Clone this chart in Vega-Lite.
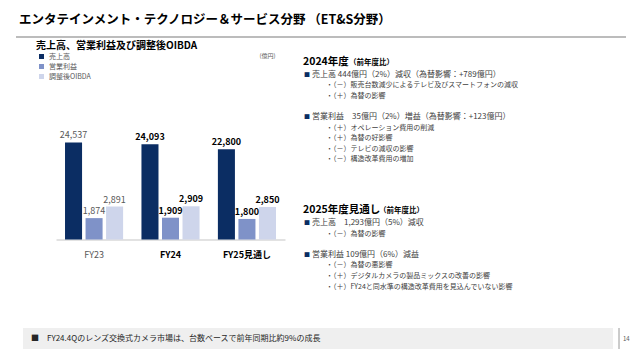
{
  "$schema": "https://vega.github.io/schema/vega-lite/v6.json",
  "background": "white",
  "padding": {"left": 15, "top": 0, "right": 0, "bottom": 0},
  "config": {"view": {"stroke": null}, "font": "Noto Sans CJK JP"},
  "bounds": "full",
  "spacing": 3,
  "resolve": {"scale": {"color": "independent"}, "legend": {"color": "independent"}},
  "vconcat": [
    {
      "width": 610,
      "height": 37,
      "data": {"values": [{"t": "エンタテインメント・テクノロジー＆サービス分野 （ET&S分野）"}]},
      "layer": [
        {
          "mark": {"type": "text", "align": "left", "baseline": "middle", "dx": 3, "dy": 1.5, "fontSize": 12.5, "fontWeight": "bold", "color": "#000000"},
          "encoding": {
            "x": {"datum": 0, "scale": {"domain": [0, 1]}, "axis": null},
            "text": {"field": "t"}
          }
        },
        {
          "mark": {"type": "rule", "color": "#a6a6a6", "strokeWidth": 1.5},
          "encoding": {"y": {"datum": 0, "scale": {"domain": [0, 1]}, "axis": null}}
        }
      ]
    },
    {
      "bounds": "full",
      "spacing": 37,
      "resolve": {"scale": {"color": "independent"}, "legend": {"color": "independent"}},
      "vconcat": [
        {
          "bounds": "flush",
          "spacing": 18,
          "resolve": {"scale": {"color": "independent"}, "legend": {"color": "independent"}},
          "hconcat": [
            {"width": 22, "height": 1, "data": {"values": []}, "mark": {"type": "point", "opacity": 0}, "encoding": {}},
            {
              "width": 229,
              "height": 175.5,
              "title": {"text": "売上高、営業利益及び調整後OIBDA", "anchor": "start", "frame": "group", "dx": -20, "offset": 2, "fontSize": 10, "fontWeight": "bold", "color": "#000000"},
              "data": {"values": [
                {"fy": "FY23", "series": "売上高", "value": 24537},
                {"fy": "FY23", "series": "営業利益", "value": 1874},
                {"fy": "FY23", "series": "調整後OIBDA", "value": 2891},
                {"fy": "FY24", "series": "売上高", "value": 24093},
                {"fy": "FY24", "series": "営業利益", "value": 1909},
                {"fy": "FY24", "series": "調整後OIBDA", "value": 2909},
                {"fy": "FY25見通し", "series": "売上高", "value": 22800},
                {"fy": "FY25見通し", "series": "営業利益", "value": 1800},
                {"fy": "FY25見通し", "series": "調整後OIBDA", "value": 2850}
              ]},
              "encoding": {
                "x": {
                  "field": "fy", "type": "nominal", "sort": ["FY23", "FY24", "FY25見通し"],
                  "scale": {"paddingInner": 0.24, "paddingOuter": 0.118},
                  "axis": {
                    "title": null, "ticks": false, "domainColor": "#d9d9d9", "domainWidth": 1.5,
                    "labelAngle": 0, "labelFontSize": 9, "labelPadding": 11,
                    "labelColor": {"condition": {"test": "datum.value === 'FY23'", "value": "#595959"}, "value": "#000000"},
                    "labelFontWeight": {"condition": {"test": "datum.value === 'FY23'", "value": "normal"}, "value": "bold"}
                  }
                },
                "xOffset": {"field": "series", "type": "nominal", "scale": {"domain": ["売上高", "営業利益", "調整後OIBDA"], "paddingInner": 0.17, "paddingOuter": 0}}
              },
              "layer": [
                {
                  "transform": [{"filter": "datum.series === '売上高'"}],
                  "mark": {"type": "bar"},
                  "encoding": {
                    "y": {"field": "value", "type": "quantitative", "scale": {"domain": [0, 44394], "nice": false}, "axis": null},
                    "color": {
                      "field": "series", "type": "nominal",
                      "scale": {"domain": ["売上高", "営業利益", "調整後OIBDA"], "range": ["#0b2d63", "#7f92c8", "#ced5eb"]},
                      "legend": {"orient": "none", "legendX": -18, "legendY": -11, "title": null, "symbolType": "square", "symbolSize": 25, "symbolStrokeWidth": 0, "labelFontSize": 7, "labelColor": "#595959", "rowPadding": 2, "labelOffset": 4, "padding": 0, "direction": "vertical"}
                    }
                  }
                },
                {
                  "transform": [{"filter": "datum.series !== '売上高'"}],
                  "mark": {"type": "bar"},
                  "encoding": {
                    "y": {"field": "value", "type": "quantitative", "scale": {"domain": [0, 15375], "nice": false}, "axis": null},
                    "color": {
                      "field": "series", "type": "nominal",
                      "scale": {"domain": ["売上高", "営業利益", "調整後OIBDA"], "range": ["#0b2d63", "#7f92c8", "#ced5eb"]},
                      "legend": {"orient": "none", "legendX": -18, "legendY": -11, "title": null, "symbolType": "square", "symbolSize": 25, "symbolStrokeWidth": 0, "labelFontSize": 7, "labelColor": "#595959", "rowPadding": 2, "labelOffset": 4, "padding": 0, "direction": "vertical"}
                    }
                  }
                },
                {
                  "transform": [{"filter": "datum.series === '売上高' && datum.fy === 'FY23'"}],
                  "mark": {"type": "text", "baseline": "bottom", "dy": -2, "fontSize": 9, "color": "#595959"},
                  "encoding": {
                    "y": {"field": "value", "type": "quantitative", "scale": {"domain": [0, 44394], "nice": false}, "axis": null},
                    "text": {"field": "value", "type": "quantitative", "format": ","}
                  }
                },
                {
                  "transform": [{"filter": "datum.series === '売上高' && datum.fy !== 'FY23'"}],
                  "mark": {"type": "text", "baseline": "bottom", "dy": -2, "fontSize": 9, "fontWeight": "bold", "color": "#000000"},
                  "encoding": {
                    "y": {"field": "value", "type": "quantitative", "scale": {"domain": [0, 44394], "nice": false}, "axis": null},
                    "text": {"field": "value", "type": "quantitative", "format": ","}
                  }
                },
                {
                  "transform": [{"filter": "datum.series !== '売上高' && datum.fy === 'FY23'"}],
                  "mark": {"type": "text", "baseline": "bottom", "dy": -2, "fontSize": 9, "color": "#595959"},
                  "encoding": {
                    "y": {"field": "value", "type": "quantitative", "scale": {"domain": [0, 15375], "nice": false}, "axis": null},
                    "text": {"field": "value", "type": "quantitative", "format": ","}
                  }
                },
                {
                  "transform": [{"filter": "datum.series !== '売上高' && datum.fy !== 'FY23'"}],
                  "mark": {"type": "text", "baseline": "bottom", "dy": -2, "fontSize": 9, "fontWeight": "bold", "color": "#000000"},
                  "encoding": {
                    "y": {"field": "value", "type": "quantitative", "scale": {"domain": [0, 15375], "nice": false}, "axis": null},
                    "text": {"field": "value", "type": "quantitative", "format": ","}
                  }
                },
                {
                  "data": {"values": [{"u": "(億円)"}]},
                  "mark": {"type": "text", "baseline": "middle", "dy": -8, "fontSize": 6, "color": "#595959"},
                  "encoding": {
                    "x": {"datum": "FY25見通し"},
                    "xOffset": {"datum": "調整後OIBDA"},
                    "y": {"datum": 44394, "scale": {"domain": [0, 44394], "nice": false}, "axis": null},
                    "text": {"field": "u"}
                  }
                }
              ],
              "resolve": {"scale": {"y": "independent"}}
            },
            {
              "width": 330,
              "height": 222.6,
              "data": {"values": [
                {"line": 0, "kind": "h", "text": "2024年度", "note": "（前年度比）"},
                {"line": 1, "kind": "b", "text": "売上高 444億円（2%）減収（為替影響：+789億円）"},
                {"line": 2, "kind": "s", "text": "・（－）販売台数減少によるテレビ及びスマートフォンの減収"},
                {"line": 3, "kind": "s", "text": "・（＋）為替の影響"},
                {"line": 5, "kind": "b", "text": "営業利益　35億円（2%）増益（為替影響：+123億円）"},
                {"line": 6, "kind": "s", "text": "・（＋）オペレーション費用の削減"},
                {"line": 7, "kind": "s", "text": "・（＋）為替の好影響"},
                {"line": 8, "kind": "s", "text": "・（－）テレビの減収の影響"},
                {"line": 9, "kind": "s", "text": "・（－）構造改革費用の増加"},
                {"line": 14, "kind": "h", "text": "2025年度見通し", "note": "（前年度比）"},
                {"line": 15, "kind": "b", "text": "売上高　1,293億円（5%）減収"},
                {"line": 16, "kind": "s", "text": "・（－）為替の影響"},
                {"line": 18, "kind": "b", "text": "営業利益 109億円（6%）減益"},
                {"line": 19, "kind": "s", "text": "・（－）為替の悪影響"},
                {"line": 20, "kind": "s", "text": "・（＋）デジタルカメラの製品ミックスの改善の影響"},
                {"line": 21, "kind": "s", "text": "・（＋）FY24と同水準の構造改革費用を見込んでいない影響"}
              ]},
              "encoding": {
                "x": {"datum": 0, "scale": {"domain": [0, 1]}, "axis": null},
                "y": {"field": "line", "type": "quantitative", "scale": {"domain": [0, 21], "reverse": true, "nice": false}, "axis": null}
              },
              "layer": [
                {
                  "transform": [{"filter": "datum.kind === 'h'"}],
                  "mark": {"type": "text", "align": "left", "baseline": "alphabetic", "dy": 0.5, "fontSize": 10.5, "fontWeight": "bold", "color": "#000000"},
                  "encoding": {"text": {"field": "text"}}
                },
                {
                  "transform": [{"filter": "datum.line === 0"}],
                  "mark": {"type": "text", "align": "left", "baseline": "alphabetic", "dy": 0.5, "dx": 46, "fontSize": 7.5, "fontWeight": "bold", "color": "#000000"},
                  "encoding": {"text": {"field": "note"}}
                },
                {
                  "transform": [{"filter": "datum.line === 14"}],
                  "mark": {"type": "text", "align": "left", "baseline": "alphabetic", "dy": 0.5, "dx": 76, "fontSize": 7.5, "fontWeight": "bold", "color": "#000000"},
                  "encoding": {"text": {"field": "note"}}
                },
                {
                  "transform": [{"filter": "datum.kind === 'b'"}],
                  "mark": {"type": "text", "align": "left", "baseline": "middle", "dx": 1, "fontSize": 6, "color": "#0b2d63"},
                  "encoding": {"text": {"value": "■"}}
                },
                {
                  "transform": [{"filter": "datum.kind === 'b'"}],
                  "mark": {"type": "text", "align": "left", "baseline": "middle", "dx": 9, "fontSize": 8, "color": "#404040"},
                  "encoding": {"text": {"field": "text"}}
                },
                {
                  "transform": [{"filter": "datum.kind === 's'"}],
                  "mark": {"type": "text", "align": "left", "baseline": "middle", "dx": 23, "fontSize": 7, "color": "#404040"},
                  "encoding": {"text": {"field": "text"}}
                }
              ]
            }
          ]
        },
        {
          "bounds": "flush",
          "spacing": 6,
          "hconcat": [
            {"width": 1, "height": 1, "data": {"values": []}, "mark": {"type": "point", "opacity": 0}, "encoding": {}},
            {
              "width": 590,
              "height": 21,
              "view": {"fill": "#efefef", "stroke": null},
              "data": {"values": [{"t": "■　FY24.4Qのレンズ交換式カメラ市場は、台数ベースで前年同期比約9%の成長"}]},
              "mark": {"type": "text", "align": "left", "baseline": "middle", "dx": 8, "fontSize": 8, "color": "#262626"},
              "encoding": {
                "x": {"datum": 0, "scale": {"domain": [0, 1]}, "axis": null},
                "text": {"field": "t"}
              }
            },
            {
              "width": 14,
              "height": 21,
              "data": {"values": [{"p": "14"}]},
              "layer": [
                {
                  "mark": {"type": "rule", "color": "#7f7f7f", "strokeWidth": 0.8},
                  "encoding": {"x": {"datum": 0, "scale": {"domain": [0, 1]}, "axis": null}}
                },
                {
                  "mark": {"type": "text", "align": "left", "baseline": "middle", "dx": 4, "fontSize": 6, "color": "#595959"},
                  "encoding": {
                    "x": {"datum": 0, "scale": {"domain": [0, 1]}, "axis": null},
                    "text": {"field": "p"}
                  }
                }
              ]
            }
          ]
        }
      ]
    }
  ]
}
